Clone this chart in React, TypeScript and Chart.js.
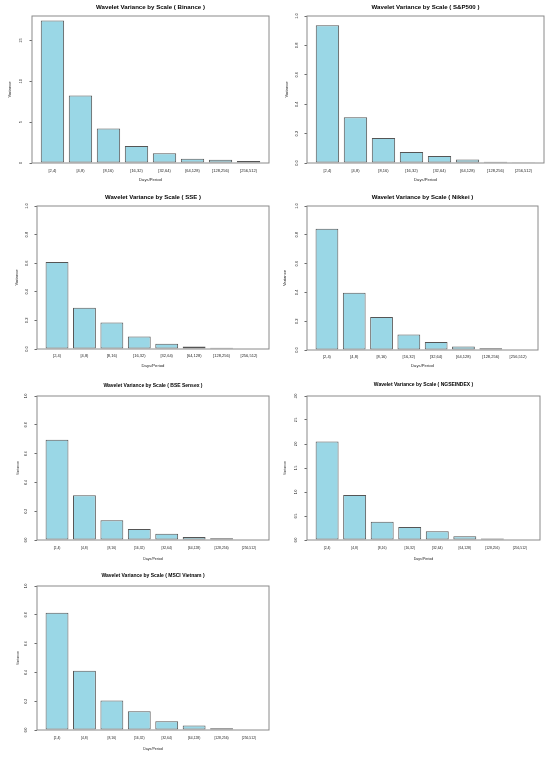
import React, { useEffect, useRef } from "react";
import { Chart, registerables } from "chart.js";

Chart.register(...registerables);

// ---------- data ----------
const categories = ["[2,4)", "[4,8)", "[8,16)", "[16,32)", "[32,64)", "[64,128)", "[128,256)", "[256,512)"];

const binance = [17.46, 8.26, 4.21, 2.07, 1.19, 0.53, 0.41, 0.25];
const sp500 = [0.937, 0.311, 0.17, 0.075, 0.048, 0.023, 0.008, 0.005];
const sse = [0.609, 0.288, 0.186, 0.088, 0.037, 0.018, 0.008, 0.004];
const nikkei = [0.842, 0.397, 0.23, 0.108, 0.056, 0.025, 0.012, 0.003];
const bse = [0.697, 0.31, 0.137, 0.076, 0.044, 0.02, 0.013, 0.004];
const ngse = [2.05, 0.94, 0.38, 0.27, 0.18, 0.076, 0.03, 0.01];
const msci = [0.815, 0.412, 0.204, 0.13, 0.06, 0.032, 0.012, 0.004];

const binanceTicks = [0, 5, 10, 15];
const unitTicks = [0, 0.2, 0.4, 0.6, 0.8, 1.0];
const ngseTicks = [0, 0.5, 1.0, 1.5, 2.0, 2.5, 3.0];

// R barplot geometry: bar width 1, space 0.2 -> centres 0.7, 1.9, ...
const barCenters = categories.map((_, i) => 0.7 + 1.2 * i);
const X_MIN = -0.176;
const X_MAX = 9.976;

const FONT = '"Liberation Sans", Arial, Helvetica, sans-serif';
const FILL = "#9AD7E6";
const EDGE = "#555555";
const BOX = "#8a8a8a";
const TXT = "#222222";

type Spec = {
  name: string;
  values: number[];
  ticks: number[];
  ymax: number;
  dec: number;
  col: number;
  ct: number;
  ch: number;
  box: { l: number; t: number; r: number; b: number };
  titleY: number;
  xTickY: number;
  xTitleY: number;
  yTickX: number;
  yTitleX: number;
  fTitle: number;
  fTick: number;
  fAxis: number;
};

const specs: Spec[] = [
  { name: "Binance", values: binance, ticks: binanceTicks, ymax: 18, dec: 0, col: 0, ct: 0, ch: 188,
    box: { l: 32, t: 16, r: 269, b: 163 }, titleY: 7, xTickY: 171, xTitleY: 180, yTickX: 21, yTitleX: 10,
    fTitle: 6.1, fTick: 4, fAxis: 4.2 },
  { name: "S&P500", values: sp500, ticks: unitTicks, ymax: 1, dec: 1, col: 1, ct: 0, ch: 188,
    box: { l: 307, t: 16, r: 544, b: 163 }, titleY: 7, xTickY: 171, xTitleY: 180, yTickX: 296.5, yTitleX: 287,
    fTitle: 6.1, fTick: 4, fAxis: 4.2 },
  { name: "SSE", values: sse, ticks: unitTicks, ymax: 1, dec: 1, col: 0, ct: 188, ch: 187,
    box: { l: 37, t: 206, r: 269, b: 349 }, titleY: 197, xTickY: 356, xTitleY: 366, yTickX: 26.5, yTitleX: 16.5,
    fTitle: 6.0, fTick: 4, fAxis: 4.2 },
  { name: "Nikkei", values: nikkei, ticks: unitTicks, ymax: 1, dec: 1, col: 1, ct: 188, ch: 187,
    box: { l: 307, t: 206, r: 538, b: 350 }, titleY: 197, xTickY: 356.5, xTitleY: 366, yTickX: 296.5, yTitleX: 285,
    fTitle: 6.0, fTick: 4, fAxis: 4.2 },
  { name: "BSE Sensex", values: bse, ticks: unitTicks, ymax: 1, dec: 1, col: 0, ct: 375, ch: 190,
    box: { l: 37, t: 396, r: 269, b: 540 }, titleY: 385.5, xTickY: 548.5, xTitleY: 558.5, yTickX: 26, yTitleX: 18,
    fTitle: 5.0, fTick: 3.4, fAxis: 3.6 },
  { name: "NGSEINDEX", values: ngse, ticks: ngseTicks, ymax: 3, dec: 1, col: 1, ct: 375, ch: 190,
    box: { l: 307, t: 396, r: 540, b: 540 }, titleY: 385, xTickY: 548.5, xTitleY: 558.5, yTickX: 296, yTitleX: 285,
    fTitle: 5.0, fTick: 3.4, fAxis: 3.6 },
  { name: "MSCI Vietnam", values: msci, ticks: unitTicks, ymax: 1, dec: 1, col: 0, ct: 565, ch: 193,
    box: { l: 37, t: 586, r: 269, b: 730 }, titleY: 575.7, xTickY: 738.5, xTitleY: 748.5, yTickX: 26, yTitleX: 18,
    fTitle: 5.0, fTick: 3.4, fAxis: 3.6 },
];

const COL_W = 275;
const TICK_LEN = 2.5;

const boxPlugin = {
  id: "rbox",
  afterDatasetsDraw(chart: any) {
    const { ctx, chartArea: a } = chart;
    ctx.save();
    ctx.strokeStyle = BOX;
    ctx.lineWidth = 1;
    ctx.strokeRect(a.left, a.top, a.right - a.left, a.bottom - a.top);
    ctx.restore();
  },
};

function measureWidest(labels: string[], size: number): number {
  const c = document.createElement("canvas");
  const ctx = c.getContext("2d");
  if (!ctx) return 0;
  ctx.font = `${size}px ${FONT}`;
  let w = 0;
  for (const l of labels) w = Math.max(w, ctx.measureText(l).width);
  return w;
}

function Panel({ spec }: { spec: Spec }) {
  const ref = useRef<HTMLCanvasElement | null>(null);

  useEffect(() => {
    if (!ref.current) return;
    const s = spec;
    const cl = s.col * COL_W;
    const lhT = s.fTitle * 1.2;
    const lhK = s.fTick * 1.2;
    const lhA = s.fAxis * 1.2;
    const fmt = (v: number) => v.toFixed(s.dec);
    const widest = measureWidest(s.ticks.map(fmt), s.fTick);

    const titlePadTop = s.titleY - s.ct - lhT / 2;
    const titlePadBottom = s.box.t - s.ct - titlePadTop - lhT;
    const xHeight = s.ct + s.ch - s.box.b;
    const xTickPad = s.xTickY - s.box.b - lhK / 2;
    const xTitlePadBottom = s.ct + s.ch - s.xTitleY - lhA / 2;
    const yWidth = s.box.l - cl;
    const yTickPad = s.box.l - s.yTickX - TICK_LEN - widest / 2;
    const yTitlePadTop = s.yTitleX - cl - lhA / 2;

    const chart = new Chart(ref.current, {
      type: "bar",
      data: {
        datasets: [
          {
            data: s.values.map((v, i) => ({ x: barCenters[i], y: v })),
            backgroundColor: FILL,
            borderColor: EDGE,
            borderWidth: 1,
            borderSkipped: false,
            barPercentage: 1 / 1.2,
            categoryPercentage: 1,
          } as any,
        ],
      },
      options: {
        responsive: false,
        animation: false,
        layout: { padding: { left: 0, top: 0, bottom: 0, right: cl + COL_W - s.box.r } },
        plugins: {
          legend: { display: false },
          tooltip: { enabled: false },
          title: {
            display: true,
            text: `Wavelet Variance by Scale ( ${s.name} )`,
            fullSize: false,
            color: "#000",
            font: { family: FONT, size: s.fTitle, weight: "bold", lineHeight: 1.2 },
            padding: { top: titlePadTop, bottom: titlePadBottom },
          },
        },
        scales: {
          x: {
            type: "linear",
            offset: false,
            min: X_MIN,
            max: X_MAX,
            grid: { display: false, drawTicks: false, offset: false },
            border: { display: false },
            afterBuildTicks: (scale: any) => {
              scale.ticks = barCenters.map((v) => ({ value: v }));
            },
            afterFit: (scale: any) => {
              scale.height = xHeight;
            },
            ticks: {
              autoSkip: false,
              minRotation: 0,
              maxRotation: 0,
              padding: xTickPad,
              color: TXT,
              font: { family: FONT, size: s.fTick, lineHeight: 1.2 },
              callback: (_v: any, i: number) => categories[i],
            },
            title: {
              display: true,
              text: "Days/Period",
              color: TXT,
              font: { family: FONT, size: s.fAxis, lineHeight: 1.2 },
              padding: { top: 0, bottom: xTitlePadBottom },
            },
          },
          y: {
            type: "linear",
            min: 0,
            max: s.ymax,
            afterBuildTicks: (scale: any) => {
              scale.ticks = s.ticks.map((v) => ({ value: v }));
            },
            afterFit: (scale: any) => {
              scale.width = yWidth;
            },
            grid: {
              display: true,
              drawOnChartArea: false,
              drawTicks: true,
              tickLength: TICK_LEN,
              color: "#444",
              lineWidth: 0.8,
            },
            border: { display: false },
            ticks: {
              minRotation: 90,
              maxRotation: 90,
              crossAlign: "center",
              padding: yTickPad,
              color: TXT,
              font: { family: FONT, size: s.fTick, lineHeight: 1.2 },
              callback: (v: any) => fmt(Number(v)),
            },
            title: {
              display: true,
              text: "Variance",
              color: TXT,
              font: { family: FONT, size: s.fAxis, lineHeight: 1.2 },
              padding: { top: yTitlePadTop, bottom: 0 },
            },
          },
        },
      } as any,
      plugins: [boxPlugin],
    });
    return () => chart.destroy();
  }, [spec]);

  return (
    <canvas
      ref={ref}
      width={COL_W}
      height={spec.ch}
      style={{
        position: "absolute",
        left: spec.col * COL_W,
        top: spec.ct,
        width: COL_W,
        height: spec.ch,
        display: "block",
      }}
    />
  );
}

export default function App() {
  return (
    <div
      style={{
        position: "absolute",
        left: 0,
        top: 0,
        width: 550,
        height: 758,
        background: "#ffffff",
        overflow: "hidden",
      }}
    >
      {specs.map((s) => (
        <Panel key={s.name} spec={s} />
      ))}
    </div>
  );
}
